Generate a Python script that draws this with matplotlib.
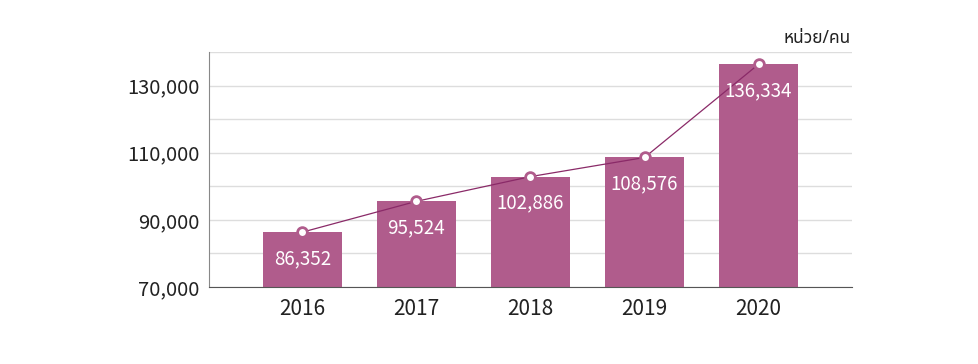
import matplotlib.pyplot as plt
from matplotlib.ticker import FuncFormatter

years = ['2016', '2017', '2018', '2019', '2020']
people = [86352, 95524, 102886, 108576, 136334]
ytick_vals = [70000, 90000, 110000, 130000]

plt.rcParams['font.family'] = ['Noto Sans CJK KR', 'Noto Sans Thai', 'DejaVu Sans']

bar_color = '#b05c8c'
line_color = '#8a2a68'

fig = plt.figure(figsize=(9.79, 3.64), dpi=100)
ax = fig.add_axes([209 / 979, 1 - 287 / 364, 643 / 979, 235 / 364])

x = list(range(len(years)))
ax.bar(x, people, width=0.7, color=bar_color, zorder=2)
ax.plot(x, people, color=line_color, linewidth=0.9, marker='o', markersize=7,
        markerfacecolor='white', markeredgecolor=bar_color, markeredgewidth=2, zorder=3)

for xi, v in zip(x, people):
    ax.annotate(f'{v:,}', (xi, v), xytext=(0, -19), textcoords='offset points',
                ha='center', va='center', color='white', fontsize=13.5, zorder=4)

ax.set_ylim(70000, 140000)
ax.set_xlim(-0.82, 4.82)
ax.set_yticks(ytick_vals)
ax.set_yticks([80000, 100000, 120000, 140000], minor=True)
ax.yaxis.set_major_formatter(FuncFormatter(lambda v, p: f'{int(v):,}'))
ax.set_xticks(x)
ax.set_xticklabels(years)
ax.tick_params(axis='y', length=0, labelsize=14.5, colors='#222222', pad=7)
ax.tick_params(axis='x', length=0, labelsize=15, colors='#222222', pad=8)
ax.tick_params(axis='y', which='minor', length=0)

ax.grid(axis='y', which='both', color='#dddddd', linewidth=1, zorder=0)
ax.set_axisbelow(True)
for s in ['top', 'right']:
    ax.spines[s].set_visible(False)
ax.spines['left'].set_color('#888888')
ax.spines['bottom'].set_color('#555555')

fig.text(851 / 979, 1 - 38 / 364, 'หน่วย/คน', ha='right', va='center',
         fontsize=12.5, color='#222222', family=['Noto Sans Thai', 'DejaVu Sans'])

fig.savefig('out.png', dpi=100)
